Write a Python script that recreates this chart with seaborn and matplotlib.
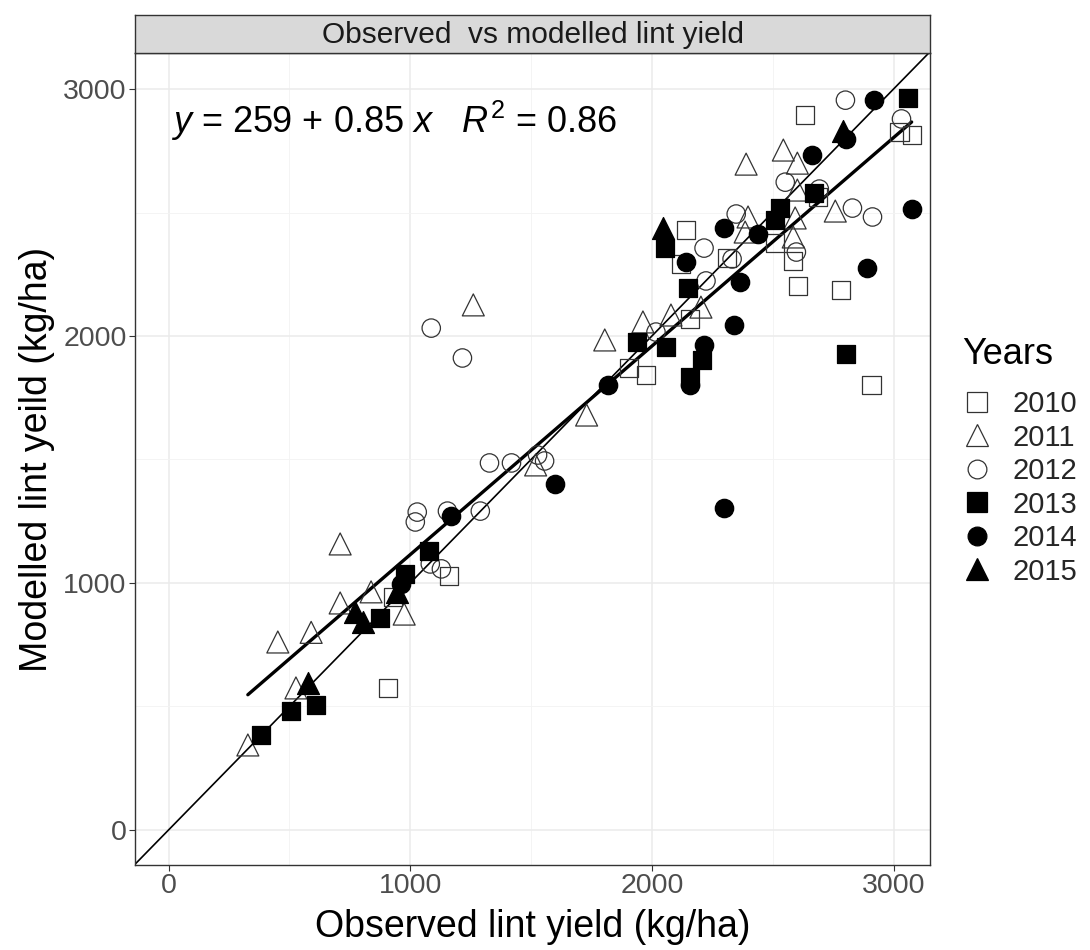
import matplotlib
matplotlib.use("Agg")
import matplotlib.pyplot as plt
from matplotlib.lines import Line2D
import numpy as np
import pandas as pd
import seaborn as sns

# ---------------- data ----------------
years = ["2010", "2011", "2012", "2013", "2014", "2015"]

obs_2010 = [2635, 2141, 2120, 2311, 2158, 1905, 1975, 3025, 3075, 2689, 2510, 2585, 2606, 2784, 2909, 1162, 909, 929]
mod_2010 = [2895, 2429, 2291, 2316, 2069, 1870, 1842, 2826, 2814, 2563, 2376, 2304, 2202, 2186, 1802, 1028, 575, 943]

obs_2011 = [452, 590, 710, 710, 838, 975, 527, 328, 1261, 1730, 1519, 1805, 1963, 2079, 2203, 2390,
            2544, 2602, 2602, 2398, 2593, 2585, 2759, 2386]
mod_2011 = [761, 800, 919, 1158, 964, 874, 575, 344, 2126, 1680, 1478, 1984, 2057, 2085, 2117, 2696,
            2753, 2700, 2591, 2482, 2478, 2401, 2506, 2421]

obs_2012 = [1087, 1216, 1328, 1419, 1527, 1556, 1029, 1021, 1154, 1290, 1083, 1129, 2017, 2216, 2224,
            2332, 2349, 2801, 3033, 2552, 2693, 2830, 2913, 2598]
mod_2012 = [2032, 1911, 1486, 1486, 1518, 1494, 1287, 1247, 1291, 1291, 1077, 1057, 2016, 2356, 2223,
            2312, 2494, 2955, 2879, 2623, 2595, 2518, 2482, 2340]

obs_2013 = [382, 506, 610, 876, 979, 1079, 2054, 2149, 1938, 2058, 2207, 2158, 3062, 2672, 2531, 2510, 2805]
mod_2013 = [385, 482, 506, 858, 1036, 1130, 2356, 2194, 1976, 1955, 1903, 1834, 2964, 2579, 2518, 2470, 1927]

obs_2014 = [1170, 963, 1598, 1817, 2141, 2158, 2216, 2299, 2365, 2340, 2299, 2921, 2805, 2664, 2440, 3075, 2892]
mod_2014 = [1271, 996, 1401, 1802, 2300, 1802, 1964, 2437, 2219, 2045, 1304, 2955, 2798, 2733, 2413, 2514, 2275]

obs_2015 = [577, 772, 805, 946, 2046, 2793]
mod_2015 = [595, 883, 842, 964, 2437, 2830]

obs_all = [obs_2010, obs_2011, obs_2012, obs_2013, obs_2014, obs_2015]
mod_all = [mod_2010, mod_2011, mod_2012, mod_2013, mod_2014, mod_2015]

df = pd.concat(
    [pd.DataFrame({"Observed": o, "Modelled": m, "Years": y}) for o, m, y in zip(obs_all, mod_all, years)],
    ignore_index=True,
)

# ---------------- styling ----------------
markers = {"2010": "s", "2011": "^", "2012": "o", "2013": "s", "2014": "o", "2015": "^"}
filled = {"2010": False, "2011": False, "2012": False, "2013": True, "2014": True, "2015": True}
sizes = {"s": 170, "^": 250, "o": 175}
leg_ms = {"s": 14, "^": 16, "o": 13.5}

sns.set_theme(style="whitegrid")
plt.rcParams["font.family"] = ["Liberation Sans", "DejaVu Sans"]
plt.rcParams["mathtext.fontset"] = "custom"
plt.rcParams["mathtext.rm"] = "Liberation Sans"
plt.rcParams["mathtext.it"] = "Liberation Sans:italic"

W, H = 1090, 950
fig = plt.figure(figsize=(W / 100, H / 100), dpi=100)
L, R, T, B = 135, 930, 53, 865
ax = fig.add_axes([L / W, (H - B) / H, (R - L) / W, (B - T) / H])
strip = fig.add_axes([L / W, (H - T) / H, (R - L) / W, 38 / H])

# identity line
ax.axline((0, 0), slope=1, color="black", lw=1.2, zorder=2)

# regression line through all data
sns.regplot(data=df, x="Observed", y="Modelled", scatter=False, ci=None, ax=ax,
            line_kws=dict(color="black", lw=2.4, zorder=2), truncate=True)

for y in years:
    sub = df[df["Years"] == y]
    mk = markers[y]
    sns.scatterplot(data=sub, x="Observed", y="Modelled", ax=ax, marker=mk, s=sizes[mk],
                    facecolor="black" if filled[y] else "none",
                    edgecolor="black" if filled[y] else "#333333",
                    linewidth=0.9, zorder=3, legend=False)

ax.set_xlim(-139, 3151)
ax.set_ylim(-142, 3146)
ticks = [0, 1000, 2000, 3000]
ax.set_xticks(ticks)
ax.set_yticks(ticks)
ax.set_xticks([500, 1500, 2500], minor=True)
ax.set_yticks([500, 1500, 2500], minor=True)
ax.grid(True, which="major", color="#EBEBEB", lw=1.1)
ax.grid(True, which="minor", color="#F3F3F3", lw=0.6)
ax.tick_params(axis="both", which="major", labelsize=20.5, labelcolor="#4D4D4D",
               length=4, width=0.8, color="#333333", direction="out", bottom=True, left=True, pad=2)
ax.tick_params(which="minor", length=0)
for s in ax.spines.values():
    s.set_color("#333333")
    s.set_linewidth(1.0)
ax.set_facecolor("white")

ax.set_xlabel("Observed lint yield (kg/ha)", fontsize=27, color="black", labelpad=7)
ax.set_ylabel("Modelled lint yeild (kg/ha)", fontsize=27, color="black", labelpad=6)

ax.text(10, 2870, r"$y$ = 259 + 0.85 $x$   $R^2$ = 0.86", fontsize=26, ha="left", va="center",
        color="black")

# strip
strip.set_facecolor("#D9D9D9")
strip.set_xticks([])
strip.set_yticks([])
for s in strip.spines.values():
    s.set_color("#333333")
    s.set_linewidth(1.0)
strip.text(0.5, 0.47, "Observed  vs modelled lint yield", transform=strip.transAxes,
           ha="center", va="center", fontsize=21.5, color="#1A1A1A")

# legend
handles = []
for y in years:
    mk = markers[y]
    handles.append(Line2D([], [], linestyle="none", marker=mk, markersize=leg_ms[mk],
                          markerfacecolor="black" if filled[y] else "none",
                          markeredgecolor="black" if filled[y] else "#333333",
                          markeredgewidth=0.9, label=y))
fig.text(962 / W, 1 - 354 / H, "Years", fontsize=26, ha="left", va="center", color="black")
leg = fig.legend(handles=handles, loc="upper left",
                 bbox_to_anchor=(962 / W, 1 - 390 / H), frameon=False, borderpad=0,
                 borderaxespad=0, fontsize=21, labelspacing=0.19,
                 handletextpad=0.69, handlelength=1.03)

fig.savefig("out.png", dpi=100, facecolor="white")
